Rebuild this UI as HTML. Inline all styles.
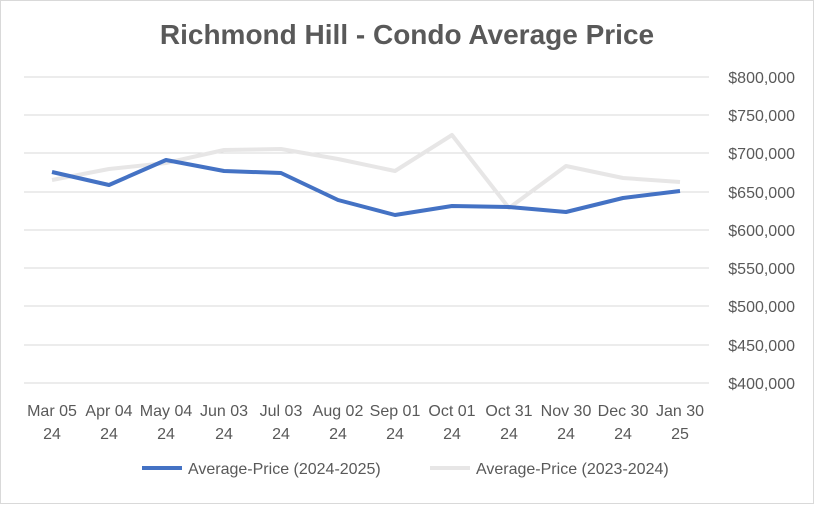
<!DOCTYPE html>
<html><head><style>
body{margin:0;background:#fff;}
svg text{font-family:"Liberation Sans",Arial,sans-serif;fill:#595959;}
</style></head><body>
<svg width="814" height="504" viewBox="0 0 814 504" xmlns="http://www.w3.org/2000/svg">
<rect x="0.5" y="0.5" width="813" height="503" fill="#fff" stroke="#d9d9d9"/>
<text x="407" y="44" text-anchor="middle" font-size="28" font-weight="bold">Richmond Hill - Condo Average Price</text>
<g stroke="#d9d9d9" stroke-width="1">
<line x1="24" x2="709" y1="77" y2="77"/><line x1="24" x2="709" y1="115" y2="115"/>
<line x1="24" x2="709" y1="153" y2="153"/><line x1="24" x2="709" y1="192" y2="192"/>
<line x1="24" x2="709" y1="230" y2="230"/><line x1="24" x2="709" y1="268" y2="268"/>
<line x1="24" x2="709" y1="306" y2="306"/><line x1="24" x2="709" y1="345" y2="345"/>
<line x1="24" x2="709" y1="383" y2="383"/>
</g>
<g font-size="16" text-anchor="end">
<text x="795" y="83">$800,000</text><text x="795" y="121">$750,000</text>
<text x="795" y="159">$700,000</text><text x="795" y="198">$650,000</text>
<text x="795" y="236">$600,000</text><text x="795" y="274">$550,000</text>
<text x="795" y="312">$500,000</text><text x="795" y="351">$450,000</text>
<text x="795" y="389">$400,000</text>
</g>
<g font-size="16" text-anchor="middle">
<text x="52" y="416">Mar 05</text><text x="52" y="439">24</text>
<text x="109" y="416">Apr 04</text><text x="109" y="439">24</text>
<text x="166" y="416">May 04</text><text x="166" y="439">24</text>
<text x="224" y="416">Jun 03</text><text x="224" y="439">24</text>
<text x="281" y="416">Jul 03</text><text x="281" y="439">24</text>
<text x="338" y="416">Aug 02</text><text x="338" y="439">24</text>
<text x="395" y="416">Sep 01</text><text x="395" y="439">24</text>
<text x="452" y="416">Oct 01</text><text x="452" y="439">24</text>
<text x="509" y="416">Oct 31</text><text x="509" y="439">24</text>
<text x="566" y="416">Nov 30</text><text x="566" y="439">24</text>
<text x="623" y="416">Dec 30</text><text x="623" y="439">24</text>
<text x="680" y="416">Jan 30</text><text x="680" y="439">25</text>
</g>
<polyline fill="none" stroke="#e7e6e6" stroke-width="4" stroke-linejoin="round" points="52,180 109,169 166,163 224,150 281,149 338,159 395,171 452,135 509,208 566,166 623,178 680,182"/>
<polyline fill="none" stroke="#4472c4" stroke-width="4" stroke-linejoin="round" points="52,172 109,185 166,160 224,171 281,173 338,200 395,215 452,206 509,207 566,212 623,198 680,191"/>
<line x1="142" x2="182" y1="468" y2="468" stroke="#4472c4" stroke-width="4"/>
<text x="188" y="474" font-size="16">Average-Price (2024-2025)</text>
<line x1="430" x2="470" y1="468" y2="468" stroke="#e7e6e6" stroke-width="4"/>
<text x="476" y="474" font-size="16">Average-Price (2023-2024)</text>
</svg>
</body></html>
